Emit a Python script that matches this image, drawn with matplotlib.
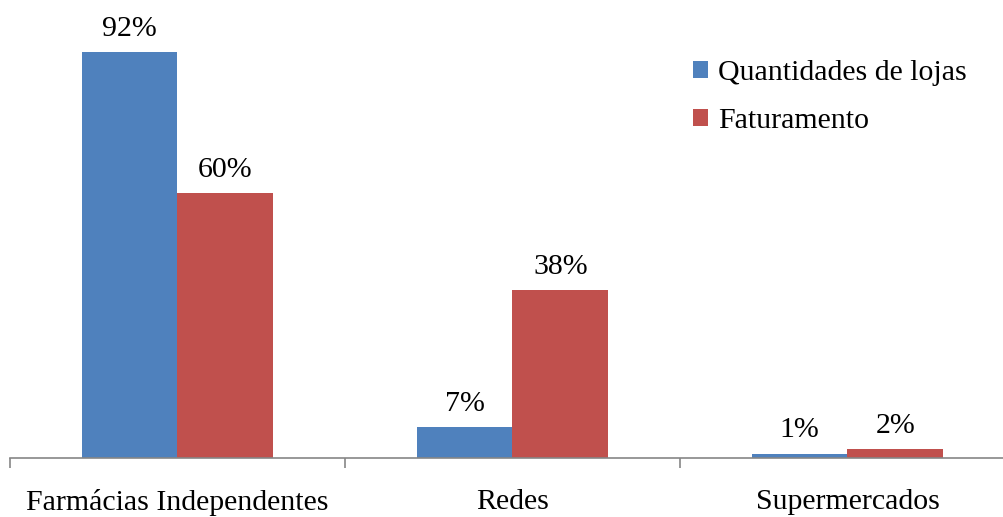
import matplotlib
matplotlib.use("Agg")
import matplotlib.pyplot as plt
import numpy as np

categories = ["Farmácias Independentes", "Redes", "Supermercados"]
series_names = ["Quantidades de lojas", "Faturamento"]
quantidades = [92, 7, 1]
faturamento = [60, 38, 2]
colors = ["#4F81BD", "#C0504D"]

plt.rcParams['font.family'] = ['Liberation Serif', 'DejaVu Serif']
FS = 21.5

W, H = 1004, 517
fig = plt.figure(figsize=(W/100, H/100), dpi=100)
left = 10 / W
bottom = (H - 458) / H
width = 1005 / W
height = (458 - 17) / H
ax = fig.add_axes([left, bottom, width, height])

x = np.arange(len(categories)) + 0.5
bw = 0.286
b1 = ax.bar(x - bw/2, quantidades, bw, color=colors[0], label=series_names[0])
b2 = ax.bar(x + bw/2, faturamento, bw, color=colors[1], label=series_names[1])

for bars, vals in ((b1, quantidades), (b2, faturamento)):
    for r, v in zip(bars, vals):
        ax.text(r.get_x() + r.get_width()/2, v + 2.3, f"{v}%", ha='center', va='bottom', fontsize=FS)

ax.set_xlim(0, 3)
ax.set_ylim(0, 100)
ax.set_xticks([0, 1, 2, 3])
ax.set_xticklabels([])
ax.set_xticks(x, minor=True)
ax.set_xticklabels(categories, minor=True, fontsize=FS)
ax.tick_params(axis='x', which='minor', length=0, pad=22)
ax.tick_params(axis='x', which='major', length=7, color='#868686', width=1.2)
ax.set_yticks([])
for s in ('top', 'right', 'left'):
    ax.spines[s].set_visible(False)
ax.spines['bottom'].set_color('#868686')
ax.spines['bottom'].set_linewidth(1.2)

fig.legend(loc='upper left', bbox_to_anchor=(678/W, 1 - 45/H), frameon=False,
           fontsize=FS, handlelength=0.5, handleheight=0.5, handletextpad=0.35,
           labelspacing=0.75, borderpad=0)

fig.savefig("out.png", dpi=100)
